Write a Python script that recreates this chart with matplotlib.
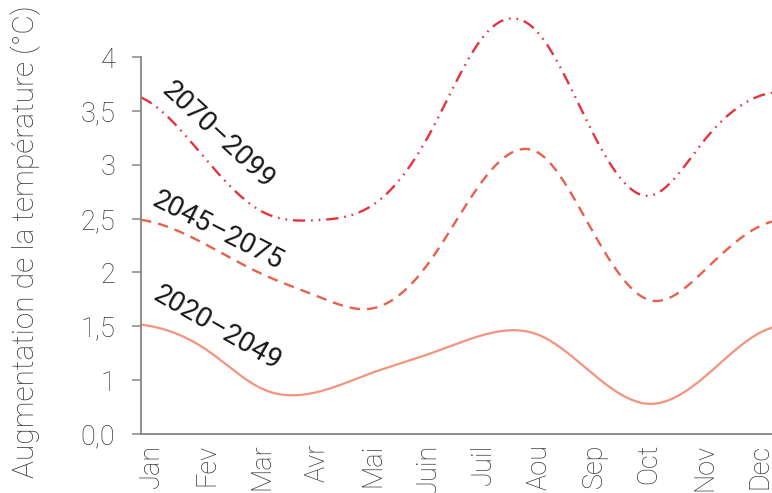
import numpy as np
import matplotlib
matplotlib.use("Agg")
import matplotlib.pyplot as plt

# Monthly temperature increase (°C) for three future periods
months = ["Jan", "Fev", "Mar", "Avr", "Mai", "Juin", "Juil", "Aou", "Sep", "Oct", "Nov", "Dec"]
p2020_2049 = [1.50, 1.28, 0.92, 0.89, 1.07, 1.24, 1.42, 1.42, 1.05, 0.78, 1.03, 1.44]
p2045_2075 = [2.47, 2.255, 1.985, 1.78, 1.667, 2.08, 2.86, 3.11, 2.36, 1.744, 2.02, 2.43]
p2070_2099 = [3.57, 3.04, 2.565, 2.486, 2.626, 3.26, 4.19, 4.22, 3.276, 2.712, 3.23, 3.64]
series_labels = ["2020–2049", "2045–2075", "2070–2099"]

ytick_values = [0.5, 1, 1.5, 2, 2.5, 3, 3.5, 4]
ytick_labels = ["0,0", "1", "1,5", "2", "2,5", "3", "3,5", "4"]


def periodic_spline(values, t):
    """Periodic cubic spline through monthly values (period 12)."""
    y = np.asarray(values, dtype=float)
    n = len(y)
    A = np.zeros((n, n))
    rhs = np.zeros(n)
    for i in range(n):
        A[i, (i - 1) % n] = 1.0
        A[i, i] = 4.0
        A[i, (i + 1) % n] = 1.0
        rhs[i] = 6.0 * (y[(i + 1) % n] - 2 * y[i] + y[(i - 1) % n])
    M = np.linalg.solve(A, rhs)
    fl = np.floor(t).astype(int)
    u = t - fl
    i0 = fl % n
    i1 = (fl + 1) % n
    return ((1 - u) * y[i0] + u * y[i1]
            + ((1 - u) ** 3 - (1 - u)) * M[i0] / 6.0
            + (u ** 3 - u) * M[i1] / 6.0)


plt.rcParams["font.family"] = ["Roboto", "DejaVu Sans"]

fig = plt.figure(figsize=(7.72, 4.93), dpi=100)
ax = fig.add_axes([141 / 772, 59 / 493, 631 / 772, 434 / 493])

x_lo, x_hi = -0.19, 11.22
t = np.linspace(x_lo, x_hi, 800)

ax.plot(t, periodic_spline(p2020_2049, t), color="#F4937E", lw=1.6,
        solid_capstyle="round")
ax.plot(t, periodic_spline(p2045_2075, t), color="#E8604E", lw=1.7,
        linestyle=(0, (4.4, 3.0)))
ax.plot(t, periodic_spline(p2070_2099, t), color="#E5333F", lw=1.7,
        linestyle=(0, (5.2, 2.5, 0.7, 2.5, 0.7, 2.5)))

ax.set_xlim(x_lo, x_hi)
ax.set_ylim(0.5, 4.53)

ax.set_xticks(range(len(months)))
ax.set_xticklabels(months, rotation=90, fontsize=19.5, color="#3a3633",
                   fontweight="light")
ax.tick_params(axis="x", length=0, pad=7)

ax.set_yticks(ytick_values)
ax.set_yticklabels(ytick_labels, fontsize=19.5, color="#3a3633",
                   fontweight="light")
ax.tick_params(axis="y", length=6.5, width=1.1, color="#8a8580", pad=12)

for side in ("top", "right"):
    ax.spines[side].set_visible(False)
ax.spines["left"].set_bounds(0.5, 4)
for side in ("left", "bottom"):
    ax.spines[side].set_color("#8a8580")
    ax.spines[side].set_linewidth(1.3)

# Period labels along the curves
label_style = dict(fontsize=20, color="#1a1817", ha="center", va="center",
                   fontweight="normal", rotation_mode="anchor")
ax.text(1.20, 3.27, series_labels[2], rotation=-43, **label_style)
ax.text(1.20, 2.39, series_labels[1], rotation=-27, **label_style)
ax.text(1.20, 1.48, series_labels[0], rotation=-30, **label_style)

fig.text(26 / 772, 0.509, "Augmentation de la température (°C)", rotation=90,
         ha="center", va="center", fontsize=21.5, color="#3a3633",
         fontweight="light")

fig.savefig("out.png", dpi=100)
